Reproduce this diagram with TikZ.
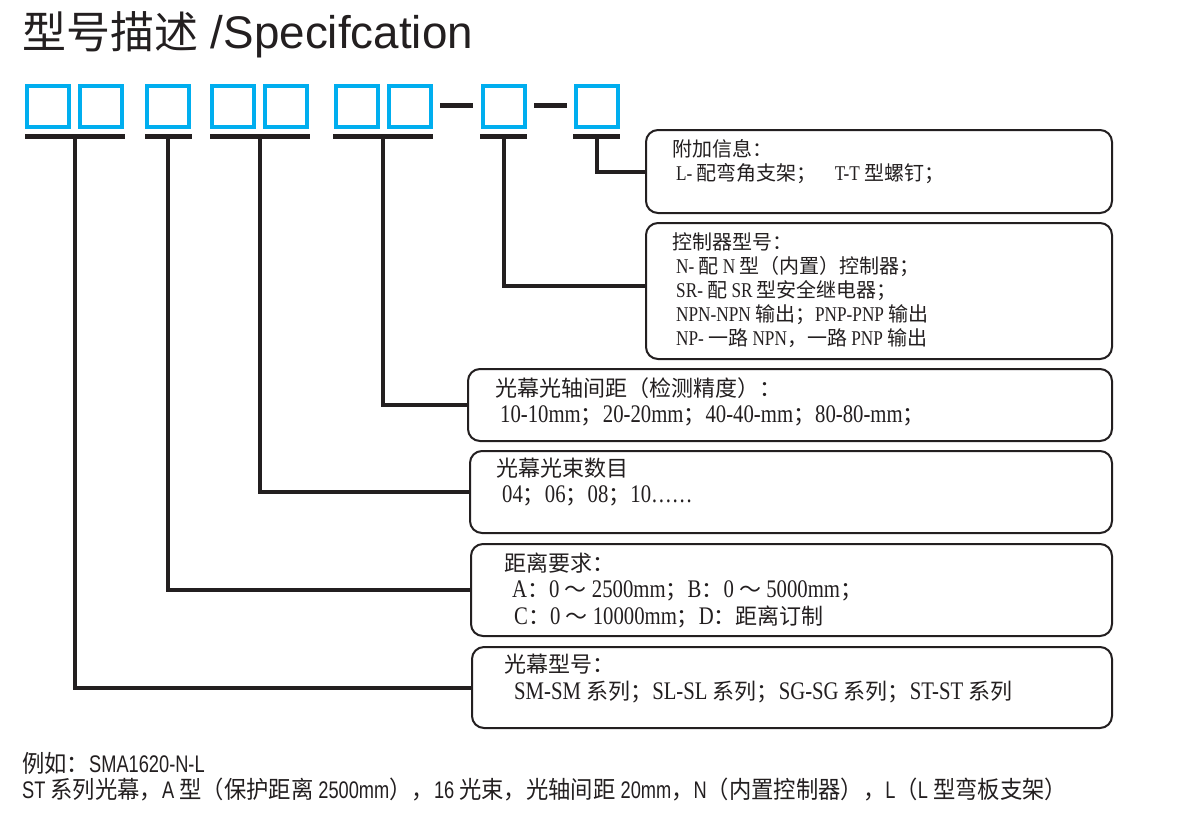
\documentclass[tikz,border=0pt]{standalone}
\usepackage{fontspec}
\usepackage{xcolor}
\setmainfont[FakeStretch=0.82, Scale=1.05]{Liberation Serif}
\newfontfamily\lowserif[FakeStretch=0.82, Scale=1.15]{Liberation Serif}
\newfontfamily\titlefont[Scale=1.04]{Liberation Sans}
\newfontfamily\notefont[FakeStretch=0.76]{Liberation Sans}
\newfontfamily\zhplain{Noto Sans CJK SC}
\newfontfamily\zhnarrow[FakeStretch=0.93]{Noto Sans CJK SC}
% Chinese characters switch font by themselves
\newcommand\zhfont{\zhplain}
\newcommand\enfont{\rmfamily}
\XeTeXinterchartokenstate=1
\chardef\zhclass=21
\newcount\zhcode
\newcommand\setzh[2]{\zhcode=#1 \loop\XeTeXcharclass\zhcode=\zhclass \ifnum\zhcode<#2 \advance\zhcode by 1 \repeat}
\setzh{"3000}{"303F}
\setzh{"4E00}{"9FFF}
\setzh{"FF00}{"FF60}
\XeTeXinterchartoks 0 \zhclass = {\zhfont}
\XeTeXinterchartoks 4095 \zhclass = {\zhfont}
\XeTeXinterchartoks \zhclass 0 = {\enfont}
\XeTeXinterchartoks \zhclass 4095 = {\enfont}

\definecolor{codeblue}{HTML}{00AEEF}
\definecolor{ink}{HTML}{231F20}

\tikzset{
  slot/.style={draw=codeblue, line width=4pt, minimum width=42pt, minimum height=41pt, inner sep=0pt},
  bar/.style={fill=ink, minimum height=5pt, inner sep=0pt},
  hyphen/.style={fill=ink, minimum width=33pt, minimum height=5pt, inner sep=0pt},
  link/.style={draw=ink, line width=4pt},
  infobox/.style={draw=ink, line width=2pt, rounded corners=12pt, anchor=north west, inner sep=0pt},
  uptxt/.style={anchor=base west, inner sep=0pt, text=ink, font=\fontsize{20}{24}\selectfont},
  lowtxt/.style={anchor=base west, inner sep=0pt, text=ink,
    font=\renewcommand\enfont{\lowserif}\lowserif\fontsize{22}{26}\selectfont},
  notetxt/.style={anchor=base west, inner sep=0pt, text=ink,
    font=\renewcommand\enfont{\notefont}\renewcommand\zhfont{\zhnarrow}\notefont\fontsize{24}{28}\selectfont},
}

\begin{document}
\begin{tikzpicture}[x=1pt, y=-1pt]
\path[fill=white, use as bounding box] (0,0) rectangle (1188,815);

% title
\node[anchor=base west, inner sep=0pt, text=ink,
  font=\renewcommand\enfont{\titlefont}\titlefont\fontsize{44}{50}\selectfont] (title) at (22,48) {型号描述 /Specifcation};

% code slots
\foreach \cx [count=\i] in {48,101,168,233,286,356.5,410,503.5,596.5}
  \node[slot] (s\i) at (\cx,106.5) {};
\node[hyphen] (h1) at (456.5,105) {};
\node[hyphen] (h2) at (550,105) {};

% underlines
\node[bar, minimum width=100pt] (u1) at (74.5,136.5) {};
\node[bar, minimum width=47pt] (u2) at (168,136.5) {};
\node[bar, minimum width=100pt] (u3) at (259.5,136.5) {};
\node[bar, minimum width=100pt] (u4) at (383,136.5) {};
\node[bar, minimum width=47pt] (u5) at (503.5,136.5) {};
\node[bar, minimum width=47pt] (u6) at (596.5,136.5) {};

% boxes
\node[infobox, minimum width=466pt, minimum height=83pt] (extra) at (645,129) {};
\node[infobox, minimum width=466pt, minimum height=136pt] (ctrl) at (645,222) {};
\node[infobox, minimum width=644pt, minimum height=72pt] (pitch) at (467,368) {};
\node[infobox, minimum width=642pt, minimum height=82pt] (beams) at (469,450) {};
\node[infobox, minimum width=641pt, minimum height=92pt] (range) at (470,543) {};
\node[infobox, minimum width=640pt, minimum height=81pt] (series) at (471,646) {};

% connectors
\draw[link] (u6.south) |- (extra.west);
\draw[link] (u5.south) |- ([yshift=5pt]ctrl.west);
\draw[link] (u4.south) |- (pitch.west);
\draw[link] (u3.south) |- (beams.west);
\draw[link] (u2.south) |- (range.west);
\draw[link] (u1.south) |- (series.west);

% box texts
\node[uptxt] (extra-h) at (672,156) {附加信息：};
\node[uptxt] (extra-1) at (676,180) {L- 配弯角支架；\hspace{18pt}T-T 型螺钉；};

\node[uptxt] (ctrl-h) at (672,249) {控制器型号：};
\node[uptxt] (ctrl-1) at (676,273) {N- 配 N 型（内置）控制器；};
\node[uptxt] (ctrl-2) at (676,297) {SR- 配 SR 型安全继电器；};
\node[uptxt] (ctrl-3) at (676,321) {NPN-NPN 输出；PNP-PNP 输出};
\node[uptxt] (ctrl-4) at (676,345) {NP- 一路 NPN，一路 PNP 输出};

\node[lowtxt] (pitch-h) at (495,396) {光幕光轴间距（检测精度）：};
\node[lowtxt] (pitch-1) at (500,422) {10-10mm；20-20mm；40-40-mm；80-80-mm；};

\node[lowtxt] (beams-h) at (496,476) {光幕光束数目};
\node[lowtxt] (beams-1) at (502,502) {04；06；08；10……};

\node[lowtxt] (range-h) at (504,571) {距离要求：};
\node[lowtxt] (range-1) at (512,597) {A：0 ～ 2500mm；B：0 ～ 5000mm；};
\node[lowtxt] (range-2) at (514,624) {C：0 ～ 10000mm；D：距离订制};

\node[lowtxt] (series-h) at (504,672) {光幕型号：};
\node[lowtxt] (series-1) at (514,699) {SM-SM 系列；SL-SL 系列；SG-SG 系列；ST-ST 系列};

% example
\node[notetxt] (note-1) at (22,772) {例如：SMA1620-N-L};
\node[notetxt] (note-2) at (22,798) {ST 系列光幕，A 型（保护距离 2500mm），16 光束，光轴间距 20mm，N（内置控制器），L（L 型弯板支架）};
\end{tikzpicture}
\end{document}
